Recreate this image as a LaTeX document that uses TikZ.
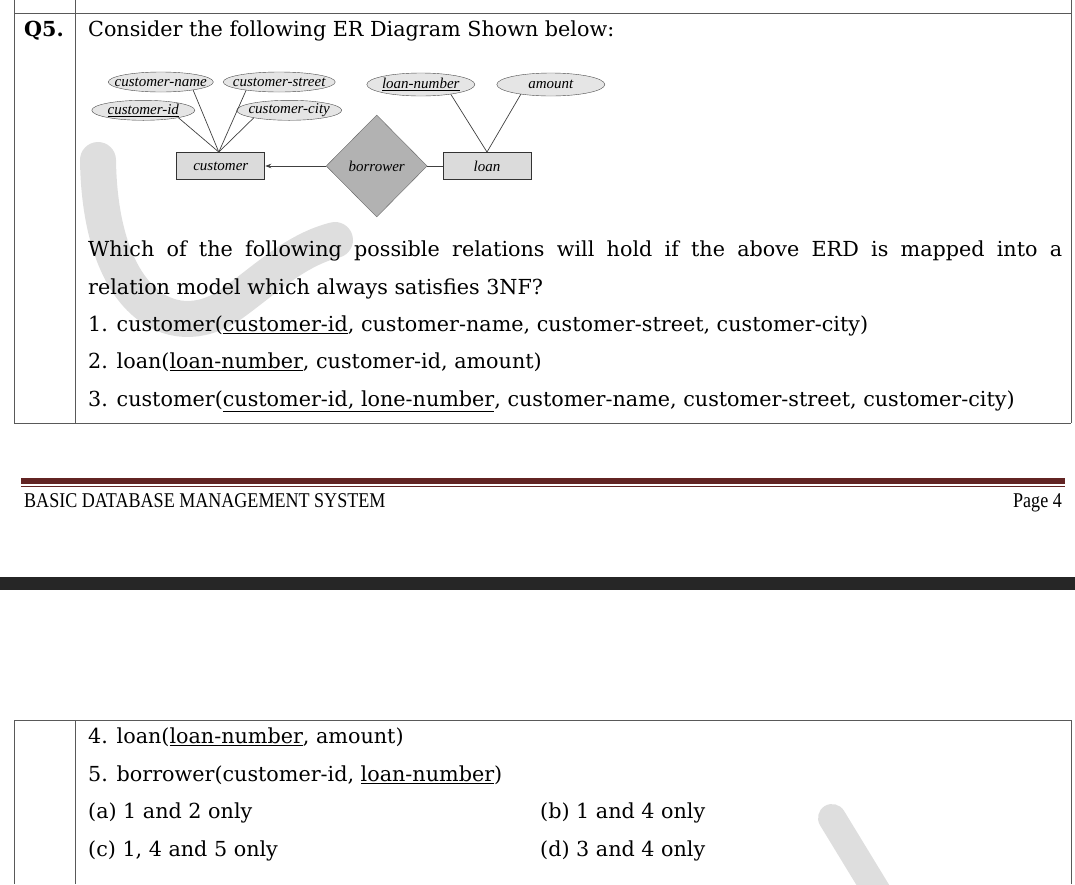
\documentclass[tikz,border=0pt]{standalone}
\usepackage{fontspec}
\setmainfont{DejaVu Serif}
\newfontfamily\erfont{Liberation Serif}
\newfontfamily\footfont[FakeStretch=0.86]{Liberation Serif}
\usetikzlibrary{shapes.geometric, arrows.meta}
\definecolor{footred}{HTML}{622423}
\definecolor{bandgray}{HTML}{262626}
\definecolor{markgray}{HTML}{DEDEDE}
\newcommand{\attrlabel}[1]{\makebox[0pt]{#1}}

\begin{document}
\begin{tikzpicture}
  [x=1pt, y=-1pt,
   txt/.style={anchor=base west, inner sep=0pt, font=\fontsize{20.7}{24}\selectfont},
   tbl/.style={draw=black!65, line width=1pt},
   attr/.style={shape=ellipse, draw=black!70, fill=black!10, inner sep=0pt,
     minimum height=20pt, minimum width=#1, font=\erfont\itshape\fontsize{15}{17}\selectfont},
   entity/.style={shape=rectangle, draw=black!80, fill=black!14, line width=0.9pt,
     minimum width=88pt, minimum height=27pt, font=\erfont\itshape\fontsize{15}{17}\selectfont},
   rel/.style={shape=diamond, draw=black!60, fill=black!30, inner sep=0pt,
     minimum width=101pt, minimum height=102pt, font=\erfont\itshape\fontsize{15}{17}\selectfont},
   link/.style={draw=black!75, line width=0.7pt},
   wmark/.style={draw=markgray, line width=36pt, line cap=round}]
  \useasboundingbox (0,0) rectangle (1075,884);
  % Setup constants
  \def\colA{14}
  \def\colB{75}
  \def\colC{1071}
  \def\textx{88}
  \def\optx{540}

  % Faint watermark strokes behind the page
  \draw[wmark] (98,160) .. controls (100,300) and (170,345) .. (230,305)
    .. controls (265,280) and (295,250) .. (335,240);
  \draw[wmark, line width=28pt] (832,818) -- (885,905);

  % Draw the first table (question rows)
  \foreach \x in {\colA, \colB, \colC} {
    \draw[tbl] (\x,0) -- (\x,423);
  }
  \draw[tbl] (\colA,13) -- (\colC,13);
  \draw[tbl] (\colA,423) -- (\colC,423);

  % Draw the second table (answer rows)
  \foreach \x in {\colA, \colB, \colC} {
    \draw[tbl] (\x,720) -- (\x,884);
  }
  \draw[tbl] (\colA,720) -- (\colC,720);

  % Question text
  \node[txt] (qnum) at (24,36) {\bfseries Q5.};
  \node[txt] (qhead) at (\textx,36) {Consider the following ER Diagram Shown below:};
  \node[txt] (qline1) at (\textx,256) {\makebox[974pt][s]{Which of the following possible relations will hold if the above ERD is mapped into a}};
  \node[txt] (qline2) at (\textx,294) {relation model which always satisfies 3NF?};
  \node[txt] (item1) at (\textx,331.5) {1. customer(\underline{customer-id}, customer-name, customer-street, customer-city)};
  \node[txt] (item2) at (\textx,368.5) {2. loan(\underline{loan-number}, customer-id, amount)};
  \node[txt] (item3) at (\textx,406.5) {3. customer(\underline{customer-id, lone-number}, customer-name, customer-street, customer-city)};

  % ER diagram: attributes, entities and the relationship
  \node (cname) at (160.8,82) [attr=105pt] {\attrlabel{customer-name}};
  \node (cstreet) at (279.2,82) [attr=112pt] {\attrlabel{customer-street}};
  \node (cid) at (143.3,110.3) [attr=103pt] {\attrlabel{\underline{customer-id}}};
  \node (ccity) at (289.2,110.3) [attr=105pt] {\attrlabel{customer-city}};
  \node (lnum) at (420.8,84.5) [attr=108pt, minimum height=23pt] {\attrlabel{\underline{loan-number}}};
  \node (amt) at (550.8,84.5) [attr=108pt, minimum height=23pt] {\attrlabel{amount}};
  \node (cust) at (220.8,166) [entity] {customer};
  \node (borrow) at (376.7,166) [rel] {borrower};
  \node (loan) at (487,166) [entity] {loan};
  \coordinate (cjoin) at ([xshift=-2pt]cust.north);
  \draw[link] (cname.-14) -- (cjoin);
  \draw[link] (cstreet.194) -- (cjoin);
  \draw[link] (cid.-12) -- (cjoin);
  \draw[link] (ccity.192) -- (cjoin);
  \draw[link] (lnum.-18) -- (loan.north);
  \draw[link] (amt.198) -- (loan.north);
  \draw[link, -{Stealth[length=6pt, width=4.5pt]}] (borrow) -- (cust);
  \draw[link] (borrow) -- (loan);

  % Footer of the page
  \fill[footred] (21,478) rectangle (1065,483.5);
  \fill[footred] (21,485.5) rectangle (1065,486.6);
  \node[anchor=base west, inner sep=0pt, font=\footfont\fontsize{21}{24}\selectfont] (foottitle) at (24,507) {BASIC DATABASE MANAGEMENT SYSTEM};
  \node[anchor=base east, inner sep=0pt, font=\footfont\fontsize{21}{24}\selectfont] (pageno) at (1062,507) {Page 4};
  \fill[bandgray] (0,577) rectangle (1075,590);

  % Answer rows
  \node[txt] (item4) at (\textx,743) {4. loan(\underline{loan-number}, amount)};
  \node[txt] (item5) at (\textx,781) {5. borrower(customer-id, \underline{loan-number})};
  \node[txt] (opta) at (\textx,818.5) {(a) 1 and 2 only};
  \node[txt] (optb) at (\optx,818.5) {(b) 1 and 4 only};
  \node[txt] (optc) at (\textx,856) {(c) 1, 4 and 5 only};
  \node[txt] (optd) at (\optx,856) {(d) 3 and 4 only};
\end{tikzpicture}
\end{document}
